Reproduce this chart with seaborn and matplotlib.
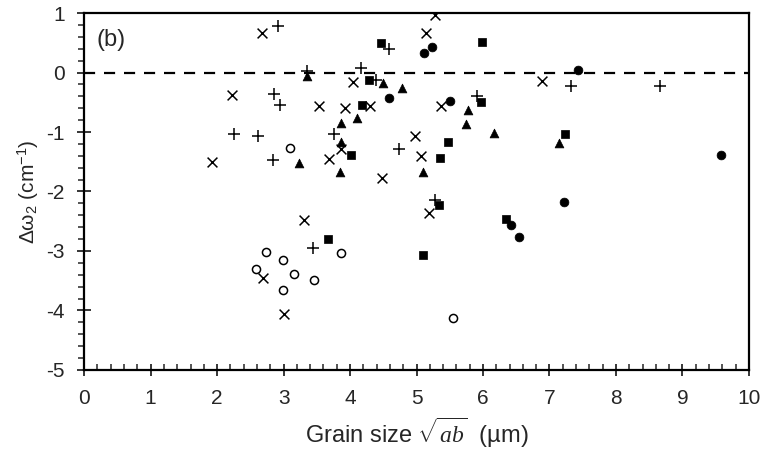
import numpy as np
import pandas as pd
import seaborn as sns
import matplotlib
matplotlib.use("Agg")
import matplotlib.pyplot as plt
from matplotlib.ticker import MultipleLocator

# 값은 그림에서 읽어낸 것 (grain size, delta omega2)
open_circle_x = [3.09, 3.86, 2.73, 2.99, 2.59, 3.16, 3.46, 2.99, 5.55]
open_circle_y = [-1.27, -3.03, -3.01, -3.16, -3.31, -3.39, -3.49, -3.66, -4.13]

filled_circle_x = [5.11, 5.24, 4.59, 5.50, 7.43, 9.58, 7.22, 6.42, 6.54]
filled_circle_y = [0.33, 0.43, -0.43, -0.48, 0.04, -1.39, -2.17, -2.57, -2.77]

square_x = [4.47, 5.99, 4.29, 4.18, 4.02, 5.35, 5.48, 5.97, 7.23, 5.34, 6.35, 5.09, 3.67]
square_y = [0.49, 0.52, -0.13, -0.55, -1.39, -1.43, -1.17, -0.49, -1.03, -2.23, -2.47, -3.07, -2.80]

triangle_x = [3.35, 4.49, 4.78, 4.10, 3.87, 3.87, 3.85, 3.23, 5.10, 5.77, 5.74, 6.17, 7.15]
triangle_y = [-0.06, -0.18, -0.26, -0.77, -0.85, -1.17, -1.67, -1.52, -1.68, -0.63, -0.87, -1.02, -1.18]

plus_x = [2.92, 3.35, 2.86, 2.95, 2.26, 2.62, 2.84, 4.59, 4.17, 4.39, 3.76, 4.74,
          5.91, 5.28, 7.33, 8.66, 3.44]
plus_y = [0.78, 0.03, -0.36, -0.55, -1.04, -1.07, -1.47, 0.39, 0.07, -0.13, -1.04, -1.29,
          -0.40, -2.14, -0.23, -0.23, -2.95]

cross_x = [2.67, 2.23, 3.53, 1.93, 3.31, 5.28, 5.14, 4.05, 3.92, 4.30, 3.87, 3.69,
           4.48, 4.97, 5.07, 5.37, 6.89, 5.19, 2.69, 3.01]
cross_y = [0.66, -0.37, -0.57, -1.51, -2.48, 0.97, 0.67, -0.16, -0.60, -0.56, -1.29, -1.46,
           -1.77, -1.06, -1.41, -0.57, -0.14, -2.36, -3.46, -4.06]

sns.set_style("ticks")
plt.rcParams["font.family"] = ["Liberation Sans", "DejaVu Sans"]
plt.rcParams["axes.unicode_minus"] = False
plt.rcParams["mathtext.fontset"] = "custom"
plt.rcParams["mathtext.rm"] = "Liberation Sans"
plt.rcParams["mathtext.it"] = "Liberation Serif:italic"

fig = plt.figure(figsize=(7.65, 4.5), dpi=100)
ax = fig.add_axes([0.110, 0.178, 0.869, 0.793])

ax.axhline(0, color="black", lw=1.6, ls=(0, (5, 4)), zorder=1)

series = [
    (open_circle_x, open_circle_y, dict(marker="o", s=34, facecolor="white", edgecolor="black", linewidth=1.1)),
    (filled_circle_x, filled_circle_y, dict(marker="o", s=40, color="black", edgecolor="black")),
    (square_x, square_y, dict(marker="s", s=40, color="black", edgecolor="black")),
    (triangle_x, triangle_y, dict(marker="^", s=40, color="black", edgecolor="black")),
    (plus_x, plus_y, dict(marker="+", s=70, color="black", linewidth=1.1)),
    (cross_x, cross_y, dict(marker="x", s=50, color="black", linewidth=1.1)),
]
for xs, ys, kw in series:
    df = pd.DataFrame({"x": xs, "y": ys})
    sns.scatterplot(data=df, x="x", y="y", ax=ax, zorder=3, **kw)

ax.set_xlim(0, 10)
ax.set_ylim(-5, 1)
ax.xaxis.set_major_locator(MultipleLocator(1))
ax.xaxis.set_minor_locator(MultipleLocator(0.2))
ax.yaxis.set_major_locator(MultipleLocator(1))
ax.yaxis.set_minor_locator(MultipleLocator(0.2))
ax.tick_params(axis="x", which="major", direction="inout", length=9, width=1.3, labelsize=15, pad=9)
ax.tick_params(axis="x", which="minor", direction="in", length=4, width=1.1)
ax.tick_params(axis="y", which="major", direction="inout", length=10, width=1.3, labelsize=15, pad=9)
ax.tick_params(axis="y", which="minor", direction="out", length=4, width=1.1)

for sp in ax.spines.values():
    sp.set_visible(True)
    sp.set_linewidth(1.6)
    sp.set_color("black")

ax.set_xlabel(r"Grain size $\sqrt{ab}$  (µm)", fontsize=17, labelpad=6)
ax.set_ylabel("Δω$_2$ (cm$^{-1}$)", fontsize=15, labelpad=4)
ax.text(0.018, 0.955, "(b)", transform=ax.transAxes, fontsize=17, va="top", ha="left")

fig.savefig("out.png", dpi=100, facecolor="white")
